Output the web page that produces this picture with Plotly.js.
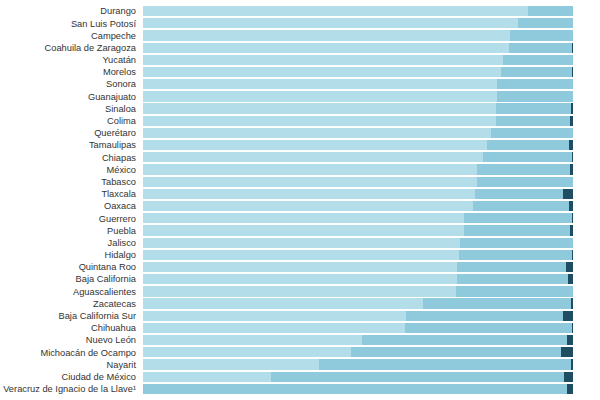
<!DOCTYPE html>
<html>
<head>
<meta charset="utf-8">
<script src="https://cdn.plot.ly/plotly-3.0.1.min.js"></script>
<style>html,body{margin:0;padding:0;background:#fff}#chart{width:600px;height:400px}</style>
</head>
<body>
<div id="chart"></div>
<script>
const states = ["Durango","San Luis Potosí","Campeche","Coahuila de Zaragoza","Yucatán","Morelos","Sonora","Guanajuato","Sinaloa","Colima","Querétaro","Tamaulipas","Chiapas","México","Tabasco","Tlaxcala","Oaxaca","Guerrero","Puebla","Jalisco","Hidalgo","Quintana Roo","Baja California","Aguascalientes","Zacatecas","Baja California Sur","Chihuahua","Nuevo León","Michoacán de Ocampo","Nayarit","Ciudad de México","Veracruz de Ignacio de la Llave¹"];
const seriesA = [89.5,87.3,85.4,85.2,83.8,83.2,82.4,82.3,82.1,82.0,80.9,80.1,79.0,77.7,77.6,77.1,76.7,74.7,74.6,73.7,73.5,73.1,73.0,72.8,65.0,61.2,60.9,50.9,48.4,41.0,29.7,0];
const seriesC = [0,0,0,0.2,0,0.3,0,0,0.5,0.7,0,0.9,0.2,0.8,0.1,2.4,0.9,0.2,0.8,0.1,0.3,1.6,1.1,0,0.5,2.4,0.2,1.3,2.8,0.4,2.1,1.5];
const seriesB = seriesA.map((a,i)=>+(100-a-seriesC[i]).toFixed(1));

const common = {type:'bar', orientation:'h', y:states, hoverinfo:'x+y'};
const data = [
  Object.assign({}, common, {x:seriesA, name:'A', marker:{color:'#b3dde8'}}),
  Object.assign({}, common, {x:seriesB, name:'B', marker:{color:'#8fcadc'}}),
  Object.assign({}, common, {x:seriesC, name:'C', marker:{color:'#1f4e63'}})
];
const layout = {
  width:600, height:400,
  margin:{l:143, r:27, t:5, b:5},
  barmode:'stack', bargap:0.16,
  showlegend:false,
  paper_bgcolor:'#fff', plot_bgcolor:'#fff',
  xaxis:{range:[0,100], visible:false, fixedrange:true},
  yaxis:{autorange:'reversed', ticks:'', showline:false, showgrid:false, ticklabelstandoff:6,
         tickfont:{family:'Liberation Sans, Arial, sans-serif', size:9.3, color:'#333'}},
  font:{family:'Liberation Sans, Arial, sans-serif'}
};
Plotly.newPlot('chart', data, layout, {displayModeBar:false, staticPlot:true});
</script>
</body>
</html>
